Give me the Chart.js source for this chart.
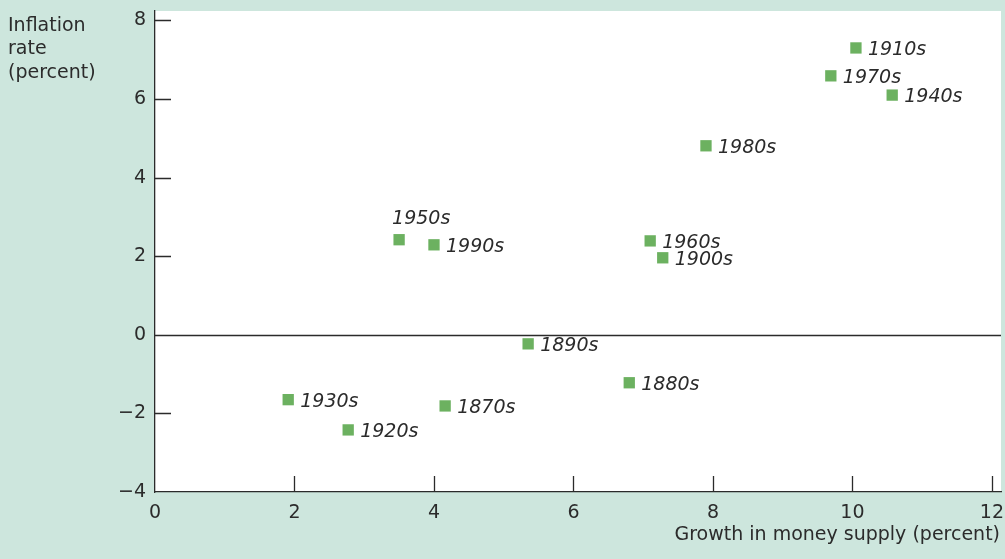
<!DOCTYPE html>
<html lang="en">
<head>
    <meta charset="UTF-8">
    <title>Money growth and inflation</title>
    <script src="https://cdn.jsdelivr.net/npm/chart.js"></script>
    <style>
        html, body { margin: 0; padding: 0; background: #cde6dd; }
        #wrap { width: 1005px; height: 559px; position: relative; }
    </style>
</head>
<body>
    <div id="wrap"><canvas id="scatterChart"></canvas></div>

    <script>
        // decades and their (money growth, inflation) pairs
        const decades = ['1870s', '1880s', '1890s', '1900s', '1910s', '1920s', '1930s',
                         '1940s', '1950s', '1960s', '1970s', '1980s', '1990s'];
        const moneyGrowth = [4.16, 6.80, 5.35, 7.28, 10.05, 2.77, 1.91, 10.57, 3.50, 7.10, 9.69, 7.90, 4.00];
        const inflation = [-1.81, -1.22, -0.23, 1.96, 7.30, -2.42, -1.65, 6.10, 2.42, 2.39, 6.59, 4.81, 2.29];
        const xTicks = [0, 2, 4, 6, 8, 10, 12];
        const yTicks = [-4, -2, 0, 2, 4, 6, 8];

        const ink = '#2b2b2b';
        const green = '#6cb160';
        const font = 'DejaVu Sans';

        // white plot area, inward ticks, zero line, x tick labels, decade labels
        const decor = {
            id: 'decor',
            beforeDraw(chart) {
                const { ctx, chartArea: a } = chart;
                ctx.save();
                ctx.fillStyle = '#ffffff';
                ctx.fillRect(a.left, a.top, a.right - a.left, a.bottom - a.top);
                ctx.restore();
            },
            beforeDatasetsDraw(chart) {
                const { ctx, chartArea: a, scales } = chart;
                ctx.save();
                ctx.strokeStyle = ink;
                ctx.lineWidth = 1.3;
                ctx.beginPath();
                yTicks.forEach(v => {
                    if (v === -4) return;
                    const y = Math.round(scales.y.getPixelForValue(v)) + 0.5;
                    if (v === 0) {
                        ctx.moveTo(a.left, y); ctx.lineTo(a.right, y);
                    } else {
                        ctx.moveTo(a.left, y); ctx.lineTo(a.left + 16, y);
                    }
                });
                xTicks.forEach(v => {
                    if (v === 0) return;
                    const x = Math.round(scales.x.getPixelForValue(v)) + 0.5;
                    ctx.moveTo(x, a.bottom); ctx.lineTo(x, a.bottom - 16);
                });
                ctx.stroke();

                // x tick labels
                ctx.fillStyle = ink;
                ctx.font = '19px "' + font + '"';
                ctx.textAlign = 'center';
                ctx.textBaseline = 'middle';
                xTicks.forEach(v => {
                    ctx.fillText(String(v), scales.x.getPixelForValue(v), a.bottom + 21);
                });
                ctx.restore();
            },
            afterDatasetsDraw(chart) {
                const { ctx, scales } = chart;
                ctx.save();
                ctx.fillStyle = ink;
                ctx.font = 'italic 19px "' + font + '"';
                ctx.textBaseline = 'middle';
                ctx.textAlign = 'left';
                decades.forEach((d, i) => {
                    const x = scales.x.getPixelForValue(moneyGrowth[i]);
                    const y = scales.y.getPixelForValue(inflation[i]);
                    if (d === '1950s') {
                        ctx.fillText(d, x - 7, y - 21);
                    } else {
                        ctx.fillText(d, x + 12, y + 2);
                    }
                });
                // axis titles
                ctx.font = '19px "' + font + '"';
                ctx.fillText('Inflation', 8, 26);
                ctx.fillText('rate', 8, 49);
                ctx.fillText('(percent)', 8, 73);
                ctx.textAlign = 'right';
                ctx.fillText('Growth in money supply (percent)', 1000, 535);
                ctx.restore();
            }
        };

        const ctx = document.getElementById('scatterChart').getContext('2d');
        new Chart(ctx, {
            type: 'scatter',
            data: {
                datasets: [{
                    data: moneyGrowth.map((x, i) => ({ x: x, y: inflation[i] })),
                    pointStyle: 'rect',
                    pointRadius: 8,
                    pointHoverRadius: 8,
                    backgroundColor: green,
                    borderColor: green,
                    borderWidth: 0
                }]
            },
            options: {
                responsive: true,
                maintainAspectRatio: false,
                animation: false,
                layout: { autoPadding: false, padding: { top: 11, right: 4, left: 0, bottom: 0 } },
                plugins: { legend: { display: false }, tooltip: { enabled: false } },
                scales: {
                    x: {
                        type: 'linear',
                        min: 0,
                        max: 12.13,
                        afterBuildTicks: s => { s.ticks = xTicks.map(v => ({ value: v })); },
                        afterFit: s => { s.height = 67; },
                        grid: { display: false, drawTicks: false },
                        border: { display: true, color: ink, width: 1.3 },
                        ticks: { display: false }
                    },
                    y: {
                        type: 'linear',
                        min: -4,
                        max: 8.24,
                        afterBuildTicks: s => { s.ticks = yTicks.map(v => ({ value: v })); },
                        afterFit: s => { s.width = 155; s.paddingTop = 0; s.paddingBottom = 0; },
                        grid: { display: false, drawTicks: false },
                        border: { display: true, color: ink, width: 1.3 },
                        ticks: {
                            color: ink, padding: 9, font: { family: font, size: 19 },
                            callback: v => (v < 0 ? '\u2212' + Math.abs(v) : String(v))
                        }
                    }
                }
            },
            plugins: [decor]
        });
    </script>
</body>
</html>
